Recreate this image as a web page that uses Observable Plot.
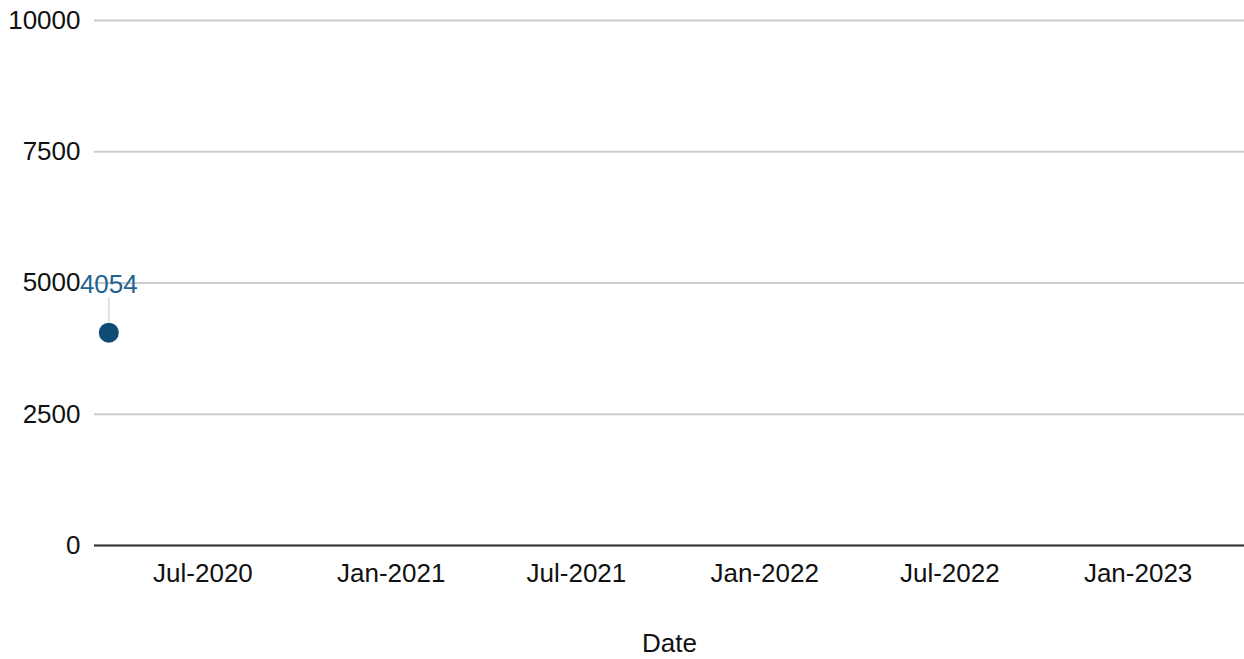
<!DOCTYPE html>
<html><head><meta charset="utf-8">
<script src="https://cdn.jsdelivr.net/npm/d3@7"></script>
<script src="https://cdn.jsdelivr.net/npm/@observablehq/plot@0.6"></script>
<style>html,body{margin:0;padding:0;background:#fff} svg{display:block}</style>
</head><body><div id="chart"></div>
<script>
// Data
const dates = ["2020-03-31"];
const values = [4054];
// Tick labels
const yTicks = [0, 2500, 5000, 7500, 10000];
const xTicks = ["2020-07-01", "2021-01-01", "2021-07-01", "2022-01-01", "2022-07-01", "2023-01-01"];
const xDomain = ["2020-03-17", "2023-04-15"];
const xLabel = "Date";

const data = dates.map((d, i) => ({date: new Date(d), value: values[i]}));

const chart = Plot.plot({
  width: 1244,
  height: 659,
  marginTop: 20,
  marginBottom: 114,
  marginLeft: 94,
  marginRight: 0,
  style: {fontFamily: "'Liberation Sans', Arial, sans-serif", fontSize: "26px", color: "#111", background: "#fff"},
  x: {type: "utc", domain: xDomain.map(d => new Date(d)), ticks: xTicks.map(d => new Date(d)), tickFormat: d3.utcFormat("%b-%Y")},
  y: {domain: [0, 10000], ticks: yTicks, tickFormat: d3.format("d")},
  marks: [
    Plot.gridY(yTicks, {stroke: "#cccccc", strokeOpacity: 1, strokeWidth: 2}),
    Plot.ruleY([0], {stroke: "#333333", strokeWidth: 2}),
    Plot.axisY(yTicks, {tickSize: 0, tickPadding: 14, tickFormat: d3.format("d"), label: null, fontSize: 26, fill: "#111"}),
    Plot.axisX(xTicks.map(d => new Date(d)), {tickSize: 0, tickPadding: 18, tickFormat: d3.utcFormat("%b-%Y"), fontSize: 26, fill: "#111",
      label: xLabel, labelAnchor: "center", labelOffset: 106, labelArrow: "none"}),
    Plot.ruleX(data, {x: "date", y1: "value", y2: "value", insetTop: -35, insetBottom: 10, stroke: "#e2e2e2", strokeWidth: 2}),
    Plot.dot(data, {x: "date", y: "value", r: 10, fill: "#0e4d73", stroke: "none"}),
    Plot.text(data, {x: "date", y: "value", text: d => String(d.value), dy: -48, fill: "#1d6390", fontSize: 26})
  ]
});
document.getElementById("chart").append(chart);
</script>
</body></html>
